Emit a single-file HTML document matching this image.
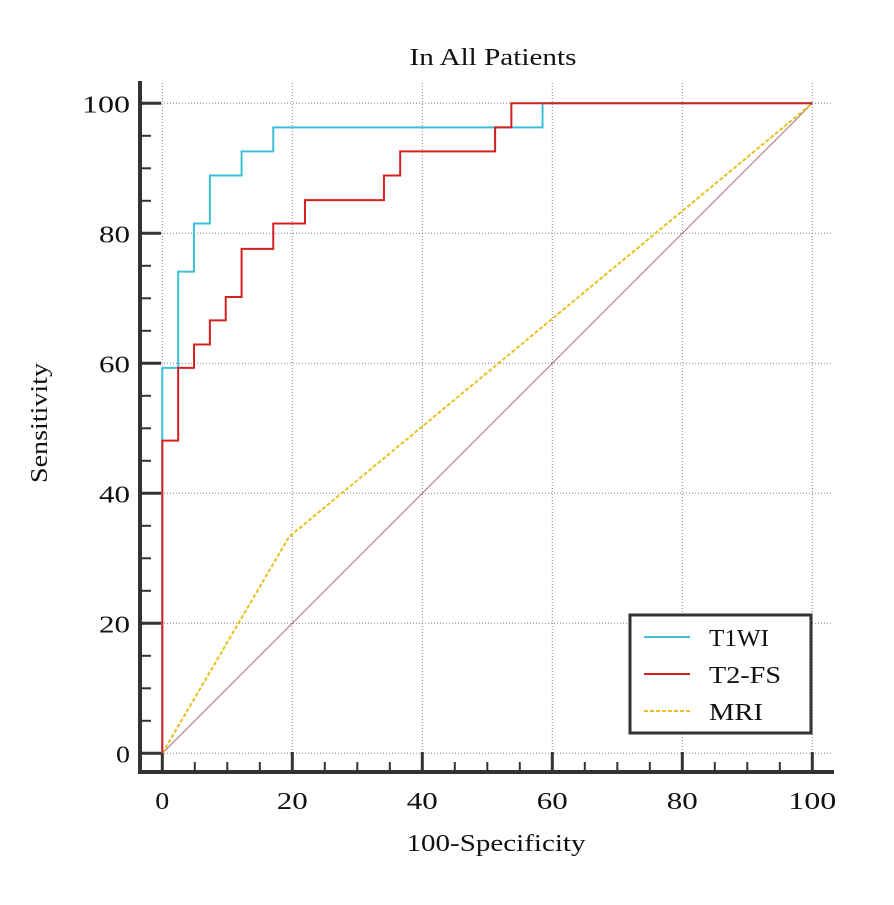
<!DOCTYPE html>
<html><head><meta charset="utf-8"><style>
body{margin:0;background:#fff}
svg text{font-family:"Liberation Serif",serif;fill:#111}
</style></head><body>
<svg width="894" height="900" viewBox="0 0 894 900">
<g id="grid"></g>
<g id="axes"></g>
<g id="series"></g>
<text x="493" y="65" font-size="24" text-anchor="middle" textLength="167" lengthAdjust="spacingAndGlyphs">In All Patients</text>
<text x="496" y="851" font-size="24" text-anchor="middle" textLength="179" lengthAdjust="spacingAndGlyphs">100-Specificity</text>
<text transform="translate(47,423) rotate(-90)" font-size="24" text-anchor="middle" textLength="120" lengthAdjust="spacingAndGlyphs">Sensitivity</text>
<g>
<rect x="630" y="615" width="181" height="118" fill="#fff" stroke="#333" stroke-width="3"/>
<line x1="644" y1="637" x2="690" y2="637" stroke="#3cc0d8" stroke-width="2"/>
<text x="709" y="646" font-size="24" textLength="60" lengthAdjust="spacingAndGlyphs">T1WI</text>
<line x1="644" y1="674" x2="690" y2="674" stroke="#d42020" stroke-width="2"/>
<text x="709" y="683" font-size="24" textLength="72" lengthAdjust="spacingAndGlyphs">T2-FS</text>
<line x1="644" y1="711" x2="690" y2="711" stroke="#e8c020" stroke-width="2" stroke-dasharray="4,2"/>
<text x="709" y="720" font-size="24" textLength="54" lengthAdjust="spacingAndGlyphs">MRI</text>
</g>
</svg>
<script>
const xTicks=[0,20,40,60,80,100];
const yTicks=[0,20,40,60,80,100];
const t1wiX=[0,0,0,2.44,2.44,4.88,4.88,7.32,7.32,12.2,12.2,17.07,17.07,58.5,58.5,100];
const t1wiY=[0,48.1,59.3,59.3,74.1,74.1,81.5,81.5,88.9,88.9,92.6,92.6,96.3,96.3,100,100];
const t2fsX=[0,0,2.44,2.44,4.88,4.88,7.32,7.32,9.76,9.76,12.2,12.2,17.07,17.07,21.95,21.95,34.1,34.1,36.6,36.6,51.2,51.2,53.7,53.7,100];
const t2fsY=[0,48.1,48.1,59.3,59.3,62.9,62.9,66.6,66.6,70.2,70.2,77.6,77.6,81.5,81.5,85.1,85.1,88.9,88.9,92.6,92.6,96.3,96.3,100,100];
const mriX=[0,19.5,100];
const mriY=[0,33.3,100];
const NS='http://www.w3.org/2000/svg';
const sx=v=>162.3+v*6.5, sy=v=>753.3-v*6.5;
const tl=s=>s.length===1?14:(s.length===2?31:48);
function mk(t,a,p){const e=document.createElementNS(NS,t);for(const k in a)e.setAttribute(k,a[k]);p.appendChild(e);return e;}
const grid=document.getElementById('grid'),axes=document.getElementById('axes'),ser=document.getElementById('series');
xTicks.forEach(v=>{const l=mk('line',{x1:sx(v),x2:sx(v),y1:83,y2:772,stroke:'#888','stroke-width':1,'stroke-dasharray':'1,2'},grid);


const s=String(v);
const t=mk('text',{x:sx(v),y:809,'font-size':24,'text-anchor':'middle',textLength:tl(s),lengthAdjust:'spacingAndGlyphs'},axes);t.textContent=s;

});
yTicks.forEach(v=>{const l=mk('line',{x1:140,x2:832,y1:sy(v),y2:sy(v),stroke:'#888','stroke-width':1,'stroke-dasharray':'1,2'},grid);


const s=String(v);
const t=mk('text',{x:130,y:sy(v)+9,'font-size':24,'text-anchor':'end',textLength:tl(s),lengthAdjust:'spacingAndGlyphs'},axes);t.textContent=s;

});
for(let v=0;v<=100;v+=5){const maj=v%20===0;
const a=mk('line',{x1:140,x2:maj?161:151,y1:sy(v),y2:sy(v),stroke:'#333','stroke-width':maj?3:2},axes);


const b=mk('line',{x1:sx(v),x2:sx(v),y1:772,y2:maj?752:762,stroke:'#333','stroke-width':maj?3:2},axes);

}
const ya=mk('line',{x1:140,x2:140,y1:81,y2:774,stroke:'#333','stroke-width':4},axes);


const xa=mk('line',{x1:138,x2:834,y1:772,y2:772,stroke:'#333','stroke-width':4},axes);


const ref=mk('line',{x1:sx(0),y1:sy(0),x2:sx(100),y2:sy(100),stroke:'#8a5060','stroke-width':0.8},ser);


function path(xs,ys,st,dash,name){const d=xs.map((x,i)=>(i?'L':'M')+sx(x)+','+sy(ys[i])).join('');
const p=mk('path',{d:d,fill:'none',stroke:st,'stroke-width':2},ser);if(dash)p.setAttribute('stroke-dasharray',dash);

}
path(mriX,mriY,'#e8c020','4,2','mri-curve');
path(t1wiX,t1wiY,'#3cc0d8',null,'t1wi-curve');
path(t2fsX,t2fsY,'#d42020',null,'t2fs-curve');
</script>
</body></html>
